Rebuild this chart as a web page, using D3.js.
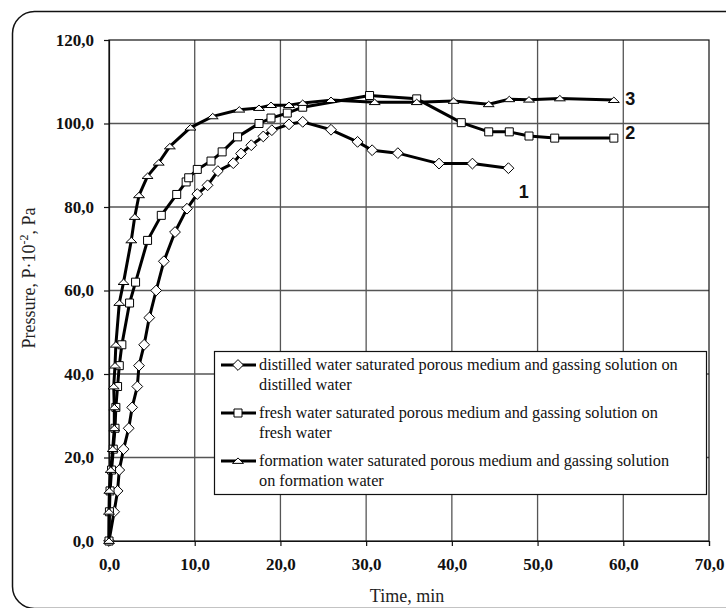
<!DOCTYPE html>
<html><head><meta charset="utf-8">
<script src="https://cdn.jsdelivr.net/npm/d3@7"></script>
<style>html,body{margin:0;padding:0;background:#fff;}svg{display:block;}</style>
</head><body>
<svg id="chart" width="726" height="608"></svg>
<script>
// ---- data ----
const xTicks = [0, 10, 20, 30, 40, 50, 60, 70];
const yTicks = [0, 20, 40, 60, 80, 100, 120];

const distilledTime = [0, 0.6, 1.0, 1.2, 1.7, 2.3, 2.7, 3.3, 3.5, 4.1, 4.7, 5.5, 6.4, 7.7, 9.1, 10.3, 11.5, 12.7, 14.5, 15.4, 16.6, 18.0, 19.0, 21.0, 22.6, 25.9, 29.0, 30.7, 33.7, 38.5, 42.4, 46.6];
const distilledPressure = [0, 7, 12, 17, 22, 27, 32, 37, 42, 47, 53.5, 60, 67, 74, 79.6, 83.1, 85.2, 88.6, 90.5, 92.8, 94.8, 96.9, 98.4, 99.8, 100.4, 98.5, 95.6, 93.6, 92.9, 90.4, 90.4, 89.3];

const freshTime = [0, 0.05, 0.12, 0.3, 0.5, 0.7, 0.8, 1.0, 1.2, 1.5, 2.4, 3.1, 4.5, 6.1, 7.9, 9.0, 9.3, 10.3, 11.9, 13.2, 15.0, 17.5, 18.9, 20.8, 22.6, 30.4, 35.9, 41.1, 44.3, 46.7, 49.0, 52.0, 58.9];
const freshPressure = [0, 7, 12, 17, 22, 27, 32, 37, 42, 47, 57, 62, 72, 78, 83, 86, 87, 89, 91, 93.2, 96.8, 100, 101.3, 102.5, 103.9, 106.7, 105.9, 100.2, 98.0, 98.0, 97.0, 96.5, 96.5];

const formationTime = [0, 0.0, 0.04, 0.2, 0.43, 0.62, 0.62, 0.55, 0.7, 0.8, 1.2, 1.7, 2.6, 3.0, 3.5, 4.5, 5.8, 7.1, 9.5, 12.1, 15.2, 17.5, 18.9, 21.0, 22.6, 25.9, 31.0, 35.9, 40.2, 44.3, 46.7, 49.0, 52.6, 58.9];
const formationPressure = [0, 7, 12, 17, 22, 27, 32, 37, 42, 47, 57, 62, 72, 77.6, 82.8, 87.4, 90.6, 94.5, 99.0, 101.7, 103.3, 103.7, 104.4, 104.4, 104.9, 105.6, 105.1, 105.1, 105.4, 104.6, 105.8, 105.7, 106.0, 105.6];

const seriesNames = [
  ["distilled water saturated porous medium and gassing solution on", "distilled water"],
  ["fresh water saturated porous medium and gassing solution on", "fresh water"],
  ["formation water saturated porous medium and gassing solution", "on formation water"]
];
const curveLabels = ["1", "2", "3"];

// ---- layout ----
const svg = d3.select("#chart");
const L = 109, R = 709, T = 40, B = 541;
const x = d3.scaleLinear().domain([0, 70]).range([L, R]);
const y = d3.scaleLinear().domain([0, 120]).range([B, T]);
const fmt = d => d3.format(".1f")(d).replace(".", ",");
const serif = "'Liberation Serif','Times New Roman',serif";
const sans = "'Liberation Sans',Arial,sans-serif";

// frame
svg.append("rect").attr("x", 12.5).attr("y", 11.5).attr("width", 740).attr("height", 597)
  .attr("rx", 22).attr("fill", "#fff").attr("stroke", "#111").attr("stroke-width", 1.5);

// grid
const g = svg.append("g");
g.selectAll(".gx").data(xTicks.slice(1, -1)).join("line")
  .attr("x1", d => x(d)).attr("x2", d => x(d)).attr("y1", T).attr("y2", B)
  .attr("stroke", "#555").attr("stroke-width", 1.3);
g.selectAll(".gy").data(yTicks.slice(1, -1)).join("line")
  .attr("x1", L).attr("x2", R).attr("y1", d => y(d)).attr("y2", d => y(d))
  .attr("stroke", "#555").attr("stroke-width", 1.3);
// plot border
svg.append("rect").attr("x", L).attr("y", T).attr("width", R - L).attr("height", B - T)
  .attr("fill", "none").attr("stroke", "#111").attr("stroke-width", 1.2);

// axes
const xAxis = svg.append("g").attr("transform", `translate(0,${B})`)
  .call(d3.axisBottom(x).tickValues(xTicks).tickFormat(fmt).tickSize(5).tickPadding(12));
const yAxis = svg.append("g").attr("transform", `translate(${L},0)`)
  .call(d3.axisLeft(y).tickValues(yTicks).tickFormat(fmt).tickSize(5).tickPadding(10));
[xAxis, yAxis].forEach(a => {
  a.select(".domain").attr("stroke", "#111").attr("stroke-width", 1.2);
  a.selectAll(".tick line").attr("stroke", "#111").attr("stroke-width", 1.2);
  a.selectAll("text").attr("font-family", serif).attr("font-size", 17)
    .attr("font-weight", "bold").attr("fill", "#111");
});

// axis titles
svg.append("text").attr("x", 407).attr("y", 602).attr("text-anchor", "middle")
  .attr("font-family", serif).attr("font-size", 18).attr("fill", "#222").text("Time, min");
const yt = svg.append("text").attr("transform", "translate(35,278) rotate(-90)")
  .attr("text-anchor", "middle").attr("font-family", serif).attr("font-size", 18).attr("fill", "#222");
yt.append("tspan").text("Pressure, P\u00B710");
yt.append("tspan").attr("dy", -7).attr("font-size", 12).text("-2");
yt.append("tspan").attr("dy", 7).text(", Pa");

// marker symbols
const diamond = { draw(ctx, s) { const r = s; ctx.moveTo(0, -r); ctx.lineTo(r, 0); ctx.lineTo(0, r); ctx.lineTo(-r, 0); ctx.closePath(); } };
const square = { draw(ctx, s) { const h = s * 0.8; ctx.moveTo(-h, -h); ctx.lineTo(h, -h); ctx.lineTo(h, h); ctx.lineTo(-h, h); ctx.closePath(); } };
const triangle = { draw(ctx, s) { const w = s, hh = s * 0.9; ctx.moveTo(0, -hh * 0.62); ctx.lineTo(w, hh * 0.48); ctx.lineTo(-w, hh * 0.48); ctx.closePath(); } };
const symbols = [diamond, square, triangle];
const symSize = [5.4, 5, 5.5];

const series = [
  { t: distilledTime, p: distilledPressure },
  { t: freshTime, p: freshPressure },
  { t: formationTime, p: formationPressure }
];
const line = d3.line().x(d => x(d[0])).y(d => y(d[1]));

series.forEach((s, i) => {
  const pts = s.t.map((t, k) => [t, s.p[k]]);
  svg.append("path").datum(pts).attr("d", line).attr("fill", "none")
    .attr("stroke", "#000").attr("stroke-width", 3).attr("stroke-linejoin", "round");
  const sym = d3.symbol().type(symbols[i]).size(symSize[i]);
  svg.append("g").selectAll("path").data(pts).join("path")
    .attr("transform", d => `translate(${x(d[0])},${y(d[1])})`)
    .attr("d", sym).attr("fill", "#fff").attr("stroke", "#000").attr("stroke-width", 1);
});

// curve labels
const labelPos = [[48.4, 83.5], [60.8, 97.7], [60.8, 105.8]];
curveLabels.forEach((c, i) => {
  svg.append("text").attr("x", x(labelPos[i][0])).attr("y", y(labelPos[i][1]))
    .attr("text-anchor", "middle").attr("dominant-baseline", "central")
    .attr("font-family", sans).attr("font-weight", "bold").attr("font-size", 18)
    .attr("fill", "#111").text(c);
});

// legend
const lg = svg.append("g");
lg.append("rect").attr("x", 214.5).attr("y", 351.5).attr("width", 492).attr("height", 143)
  .attr("fill", "#fff").attr("stroke", "#111").attr("stroke-width", 1.2);
const rowY = [370, 418, 466];
seriesNames.forEach((nm, i) => {
  const cy = rowY[i] - 5;
  lg.append("line").attr("x1", 221).attr("x2", 256).attr("y1", cy).attr("y2", cy)
    .attr("stroke", "#000").attr("stroke-width", 3);
  lg.append("path").attr("transform", `translate(238,${cy})`)
    .attr("d", d3.symbol().type(symbols[i]).size(symSize[i])).attr("fill", "#fff").attr("stroke", "#000");
  nm.forEach((ln, k) => {
    lg.append("text").attr("x", 259).attr("y", rowY[i] + k * 20)
      .attr("font-family", serif).attr("font-size", 16.3).attr("fill", "#111").text(ln);
  });
});
</script>
</body></html>
